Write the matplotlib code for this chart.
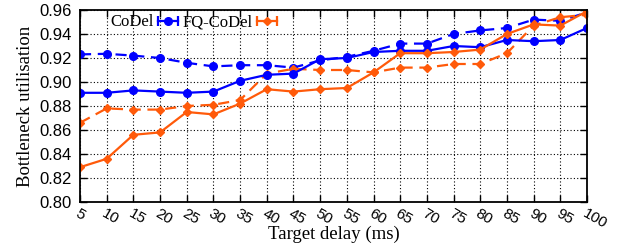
import matplotlib
matplotlib.use('Agg')
import matplotlib.pyplot as plt
from matplotlib.lines import Line2D
from matplotlib.legend_handler import HandlerBase

delays = [5, 10, 15, 20, 25, 30, 35, 40, 45, 50, 55, 60, 65, 70, 75, 80, 85, 90, 95, 100]

codel = [0.891, 0.891, 0.893, 0.892, 0.891, 0.892, 0.901, 0.906, 0.907, 0.919,
         0.920, 0.925, 0.926, 0.926, 0.930, 0.929, 0.935, 0.934, 0.935, 0.945]
codel_dash = [0.923, 0.9235, 0.922, 0.920, 0.916, 0.913, 0.914, 0.914, 0.912, 0.918,
              0.921, 0.926, 0.932, 0.932, 0.940, 0.943, 0.945, 0.952, 0.951, 0.958]
fq_codel = [0.829, 0.836, 0.856, 0.858, 0.875, 0.873, 0.882, 0.894, 0.892, 0.894,
            0.895, 0.908, 0.924, 0.924, 0.925, 0.927, 0.940, 0.948, 0.947, 0.959]
fq_codel_dash = [0.866, 0.878, 0.877, 0.877, 0.880, 0.881, 0.885, 0.907, 0.911, 0.910,
                 0.910, 0.908, 0.912, 0.912, 0.915, 0.915, 0.924, 0.947, 0.954, 0.956]

blue = '#0000ff'
orange = '#ff5a0a'


class ErrKey(HandlerBase):
    # gnuplot style key sample: |--o--|
    def create_artists(self, legend, orig, xd, yd, width, height, fontsize, trans):
        y = yd + height / 2
        x0, x1 = xd, xd + width
        c = orig.get_color()
        line = Line2D([x0, x1], [y, y], color=c, lw=1.6, transform=trans)
        caps = Line2D([x0, x1], [y, y], color=c, lw=0, marker='|', ms=7, mew=1.6,
                      transform=trans)
        mk = Line2D([(x0 + x1) / 2], [y], color=c, lw=0, marker=orig.get_marker(),
                    ms=orig.get_markersize(), transform=trans)
        return [line, caps, mk]


fig = plt.figure(figsize=(6.23, 2.5), dpi=100)
ax = fig.add_axes([0.1284, 0.192, 0.8138, 0.768])

ax.plot(delays, codel_dash, '--', color=blue, lw=1.6, marker='o', ms=5.5, dashes=(5, 3))
ax.plot(delays, fq_codel_dash, '--', color=orange, lw=1.6, marker='D', ms=4.5, dashes=(5, 3))
h1, = ax.plot(delays, codel, '-', color=blue, lw=1.6, marker='o', ms=5.5)
h2, = ax.plot(delays, fq_codel, '-', color=orange, lw=1.6, marker='D', ms=4.5)

ax.set_xlim(5, 100)
ax.set_ylim(0.80, 0.96)
ax.set_xticks(delays)
ax.set_yticks([0.80, 0.82, 0.84, 0.86, 0.88, 0.90, 0.92, 0.94, 0.96])
ax.set_yticklabels(['%.2f' % v for v in ax.get_yticks()], fontsize=12, family='Liberation Sans')
ax.set_xticklabels([str(d) for d in delays], fontsize=11, family='Liberation Sans',
                   rotation=-30, ha='left', va='top', rotation_mode='anchor')
ax.tick_params(direction='in', top=True, right=True, length=5, width=1, pad=6)
ax.tick_params(axis='x', pad=3)
ax.grid(True, color='black', linestyle=(0, (1, 2)), lw=0.8)
for s in ax.spines.values():
    s.set_linewidth(1.3)

ax.set_xlabel('Target delay (ms)', family='Liberation Serif', fontsize=13.5)
ax.xaxis.set_label_coords(0.5, -0.125)
ax.set_ylabel('Bottleneck utilisation', family='Liberation Serif', fontsize=13.5, labelpad=4)

ax.legend([h1, h2], ['CoDel', 'FQ-CoDel'], loc='upper left', ncol=2, frameon=False,
          markerfirst=False, handlelength=1.2, handletextpad=0.25, columnspacing=0.3,
          bbox_to_anchor=(0.03, 1.055), prop={'family': 'Liberation Serif', 'size': 12},
          handler_map={Line2D: ErrKey()})

fig.savefig('out.png', dpi=100)
